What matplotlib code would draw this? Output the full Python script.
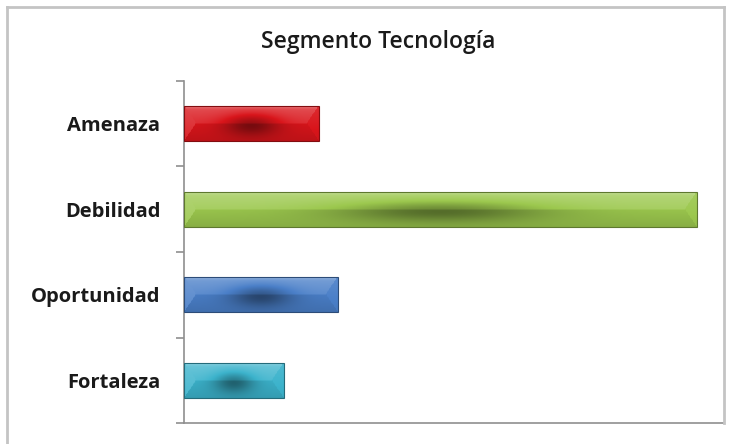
import numpy as np
import matplotlib
matplotlib.use("Agg")
import matplotlib.pyplot as plt
from matplotlib.patches import Rectangle
from matplotlib.lines import Line2D
from matplotlib.colors import to_rgb

# Chart data
categories = ["Amenaza", "Debilidad", "Oportunidad", "Fortaleza"]
values = [4.0, 15.2, 4.55, 2.95]
bar_colors = ["#d9151b", "#9cc84e", "#4a7fc8", "#3cb3cc"]
title = "Segmento Tecnología"

W, H = 740, 444
fig = plt.figure(figsize=(W / 100, H / 100), dpi=100)
fig.patch.set_facecolor("white")

ax = fig.add_axes([184 / W, 1 - 423 / H, 540 / W, 342 / H])
ax.set_facecolor("white")

y = np.arange(len(categories))
bars = ax.barh(y, values, height=0.41, color=bar_colors, zorder=2)

ax.set_xlim(0, 16)
ax.set_ylim(len(categories) - 0.5, -0.5)


def shade(base, t):
    """Lighten (t>0) toward white or darken (t<0) toward black."""
    base = np.asarray(base)
    t = t[..., None]
    light = base + (1 - base) * np.clip(t, 0, None)
    dark = base * (1 + np.clip(t, None, 0))
    return np.where(t >= 0, light, dark)


def bevel_image(color, wpx, hpx, bx=12.0):
    """Prism-like bar: sloped upper/lower halves and triangular end caps."""
    base = np.array(to_rgb(color))
    by = hpx / 2.0
    xs = np.arange(wpx) + 0.5
    ys = np.arange(hpx) + 0.5
    X, Y = np.meshgrid(xs, ys)
    u = X / wpx
    v = Y / hpx
    dl, dr = X / bx, (wpx - X) / bx
    dt, db = Y / by, (hpx - Y) / by
    which = np.argmin(np.stack([dt, db, dl, dr]), axis=0)

    glow = np.exp(-((u - 0.5) / 0.2) ** 2) * np.exp(-((v - 0.55) / 0.3) ** 2)
    top = 0.26 - 0.30 * v + 0.25 * np.exp(-(Y / 2.5) ** 2)
    bottom = -0.02 - 0.22 * (v - 0.5)
    t = np.where(which == 0, top, bottom)
    t = t - 0.42 * glow
    t = np.where(which == 2, 0.22 - 0.15 * v, t)
    t = np.where(which == 3, 0.10 - 0.15 * v, t)
    return np.clip(shade(base, t), 0, 1)


fig.canvas.draw()
for patch, col in zip(bars.patches, bar_colors):
    x0, y0 = patch.get_x(), patch.get_y()
    w, h = patch.get_width(), patch.get_height()
    p0 = ax.transData.transform((x0, y0))
    p1 = ax.transData.transform((x0 + w, y0 + h))
    wpx = max(int(abs(p1[0] - p0[0])), 2)
    hpx = max(int(abs(p1[1] - p0[1])), 2)
    img = bevel_image(col, wpx, hpx)
    im = ax.imshow(img, extent=(x0, x0 + w, y0 + h, y0), origin="upper",
                   aspect="auto", zorder=3, interpolation="bilinear")
    im.set_clip_path(patch)
    edge = np.array(to_rgb(col)) * 0.6
    ax.add_patch(Rectangle((x0, y0), w, h, fill=False, edgecolor=edge,
                           linewidth=0.8, zorder=4))

ax.set_xlim(0, 16)
ax.set_ylim(len(categories) - 0.5, -0.5)

# axes styling
for side in ("top", "right"):
    ax.spines[side].set_visible(False)
for side in ("left", "bottom"):
    ax.spines[side].set_color("#8f8f8f")
    ax.spines[side].set_linewidth(1.2)

ax.set_xticks([])
ax.set_yticks(y)
ax.set_yticklabels(categories, fontfamily="Open Sans", fontweight="bold",
                   fontsize=14.5, color="#1a1a1a")
ax.tick_params(axis="y", which="major", length=0, pad=17)
ax.set_yticks(np.arange(-0.5, len(categories), 1.0), minor=True)
ax.tick_params(axis="y", which="minor", length=6, width=1.2, color="#8f8f8f",
               direction="out")

fig.text(378 / W, 1 - 42 / H, title, ha="center", va="center",
         fontfamily="Open Sans", fontsize=16.5, fontweight="semibold",
         color="#1a1a1a")

# chart area border
bc = "#c4c4c4"
fig.add_artist(Line2D([7 / W, 7 / W], [0, 1 - 7 / H], transform=fig.transFigure,
                      color=bc, linewidth=2))
fig.add_artist(Line2D([7 / W, 724 / W], [1 - 7 / H, 1 - 7 / H],
                      transform=fig.transFigure, color=bc, linewidth=2))
fig.add_artist(Line2D([724 / W, 724 / W], [1 - 7 / H, 1 - 423 / H],
                      transform=fig.transFigure, color=bc, linewidth=2))

fig.savefig("out.png", dpi=100, facecolor="white")
